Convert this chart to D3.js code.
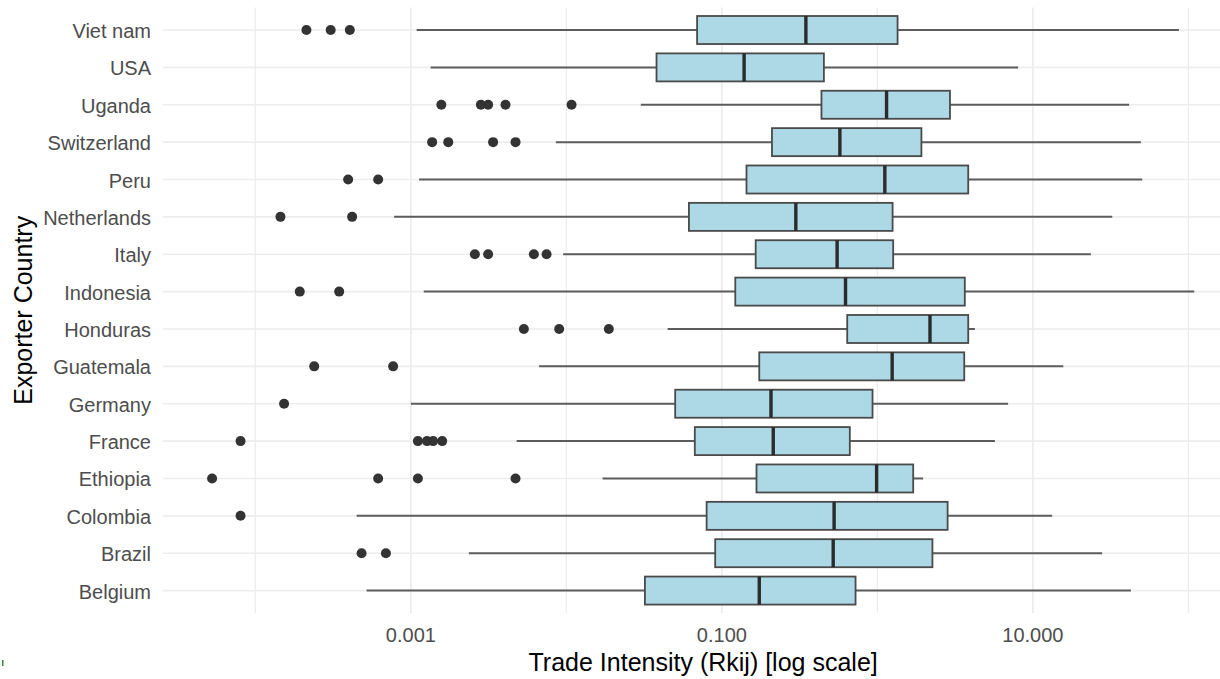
<!DOCTYPE html>
<html>
<head>
<meta charset="utf-8">
<script src="https://cdn.jsdelivr.net/npm/d3@7"></script>
<style>
  html, body { margin: 0; padding: 0; background: #fff; }
  svg { display: block; font-family: "Liberation Sans", Arial, sans-serif; }
</style>
</head>
<body>
<svg id="chart" width="1220" height="679"></svg>
<script>
// ---- data (top to bottom as displayed) ----
const countries = ["Viet nam","USA","Uganda","Switzerland","Peru","Netherlands","Italy","Indonesia",
                   "Honduras","Guatemala","Germany","France","Ethiopia","Colombia","Brazil","Belgium"];
const whiskerLow  = [1.09e-3, 1.34e-3, 0.0301, 8.56e-3, 1.13e-3, 7.81e-4, 9.53e-3, 1.21e-3,
                     0.0448, 6.68e-3, 1.0e-3, 4.79e-3, 0.0171, 4.48e-4, 2.36e-3, 5.19e-4];
const q1          = [0.0693, 0.0380, 0.437, 0.210, 0.144, 0.0614, 0.165, 0.122,
                     0.640, 0.174, 0.0501, 0.0670, 0.167, 0.0798, 0.0906, 0.0320];
const median      = [0.347, 0.139, 1.146, 0.574, 1.117, 0.299, 0.551, 0.624,
                     2.18, 1.245, 0.207, 0.214, 0.989, 0.527, 0.520, 0.174];
const q3          = [1.349, 0.453, 2.93, 1.92, 3.84, 1.253, 1.264, 3.65,
                     3.84, 3.62, 0.931, 0.665, 1.70, 2.83, 2.26, 0.724];
const whiskerHigh = [86.9, 8.04, 41.6, 49.5, 50.5, 32.4, 23.6, 109,
                     4.24, 15.7, 6.93, 5.70, 1.97, 13.3, 27.9, 42.7];
const outliers = [
  [2.13e-4, 3.05e-4, 4.05e-4],
  [],
  [1.57e-3, 2.82e-3, 3.14e-3, 4.06e-3, 0.0108],
  [1.37e-3, 1.74e-3, 3.38e-3, 4.71e-3],
  [3.95e-4, 6.16e-4],
  [1.45e-4, 4.19e-4],
  [2.58e-3, 3.14e-3, 6.18e-3, 7.46e-3],
  [1.93e-4, 3.46e-4],
  [5.33e-3, 8.99e-3, 0.01875],
  [2.39e-4, 7.69e-4],
  [1.53e-4],
  [8.03e-5, 1.11e-3, 1.27e-3, 1.39e-3, 1.59e-3],
  [5.27e-5, 6.16e-4, 1.11e-3, 4.71e-3],
  [8.03e-5],
  [4.82e-4, 6.91e-4],
  []
];
const majorTicks = [0.001, 0.1, 10];
const minorTicks = [0.0001, 0.01, 1, 100];
const xTitle = "Trade Intensity (Rkij) [log scale]";
const yTitle = "Exporter Country";

// ---- layout ----
const svg = d3.select("#chart");
const panelLeft = 163, panelTop = 7.6, panelBottom = 613;
const pxPerDecade = 155.5;

const allVals = whiskerLow.concat(whiskerHigh, outliers.flat());
const lo = Math.log10(d3.min(allVals)), hi = Math.log10(d3.max(allVals));
const pad = 0.05 * (hi - lo);
const x = d3.scaleLog()
  .domain([Math.pow(10, lo - pad), Math.pow(10, hi + pad)])
  .range([panelLeft, panelLeft + (hi - lo + 2 * pad) * pxPerDecade]);

const step = (panelBottom - panelTop) / (countries.length + 0.2);
const y = d3.scalePoint().domain(countries)
  .range([panelTop + 0.6 * step, panelBottom - 0.6 * step]);
const boxH = 0.75 * step;

const rows = countries.map((c, i) => ({
  c, wl: whiskerLow[i], q1: q1[i], med: median[i], q3: q3[i], wh: whiskerHigh[i], out: outliers[i]
}));

// ---- grid ----
const grid = svg.append("g");
grid.selectAll("line.minor").data(minorTicks).join("line")
  .attr("x1", d => x(d)).attr("x2", d => x(d))
  .attr("y1", panelTop).attr("y2", panelBottom)
  .attr("stroke", "#EDEDED").attr("stroke-width", 1.3);
grid.selectAll("line.major").data(majorTicks).join("line")
  .attr("x1", d => x(d)).attr("x2", d => x(d))
  .attr("y1", panelTop).attr("y2", panelBottom)
  .attr("stroke", "#EBEBEB").attr("stroke-width", 1.6);
grid.selectAll("line.h").data(countries).join("line")
  .attr("x1", panelLeft).attr("x2", x.range()[1])
  .attr("y1", d => y(d)).attr("y2", d => y(d))
  .attr("stroke", "#EDEDED").attr("stroke-width", 1.6);

// ---- boxplots ----
const g = svg.append("g");
const row = g.selectAll("g.row").data(rows).join("g");
row.append("line")
  .attr("x1", d => x(d.wl)).attr("x2", d => x(d.q1))
  .attr("y1", d => y(d.c)).attr("y2", d => y(d.c))
  .attr("stroke", "#5c5c5c").attr("stroke-width", 2);
row.append("line")
  .attr("x1", d => x(d.q3)).attr("x2", d => x(d.wh))
  .attr("y1", d => y(d.c)).attr("y2", d => y(d.c))
  .attr("stroke", "#5c5c5c").attr("stroke-width", 2);
row.append("rect")
  .attr("x", d => x(d.q1)).attr("width", d => x(d.q3) - x(d.q1))
  .attr("y", d => y(d.c) - boxH / 2).attr("height", boxH)
  .attr("fill", "#ADD8E6").attr("stroke", "#4a4a4a").attr("stroke-width", 1.8);
row.append("line")
  .attr("x1", d => x(d.med)).attr("x2", d => x(d.med))
  .attr("y1", d => y(d.c) - boxH / 2).attr("y2", d => y(d.c) + boxH / 2)
  .attr("stroke", "#2b2b2b").attr("stroke-width", 3.4);
row.selectAll("circle").data(d => d.out.map(v => ({ v, c: d.c }))).join("circle")
  .attr("cx", d => x(d.v)).attr("cy", d => y(d.c)).attr("r", 5)
  .attr("fill", "#333");

// ---- axes text ----
svg.append("g").selectAll("text").data(countries).join("text")
  .attr("x", 151).attr("y", d => y(d) + 8)
  .attr("text-anchor", "end").attr("font-size", 20).attr("fill", "#4D4D4D")
  .text(d => d);
const fmt = d3.format(".3f");
svg.append("g").selectAll("text").data(majorTicks).join("text")
  .attr("x", d => x(d)).attr("y", 641.5)
  .attr("text-anchor", "middle").attr("font-size", 20).attr("fill", "#4D4D4D")
  .text(d => fmt(d));
svg.append("text")
  .attr("x", (x.range()[0] + x.range()[1]) / 2).attr("y", 671)
  .attr("text-anchor", "middle").attr("font-size", 25).attr("fill", "#000")
  .text(xTitle);
svg.append("text")
  .attr("transform", `translate(32,${(panelTop + panelBottom) / 2}) rotate(-90)`)
  .attr("text-anchor", "middle").attr("font-size", 25).attr("fill", "#000")
  .text(yTitle);
// small artifact mark at bottom-left
svg.append("rect").attr("x", 2).attr("y", 660).attr("width", 1.5).attr("height", 6).attr("fill", "#2e8b3a");
</script>
</body>
</html>
